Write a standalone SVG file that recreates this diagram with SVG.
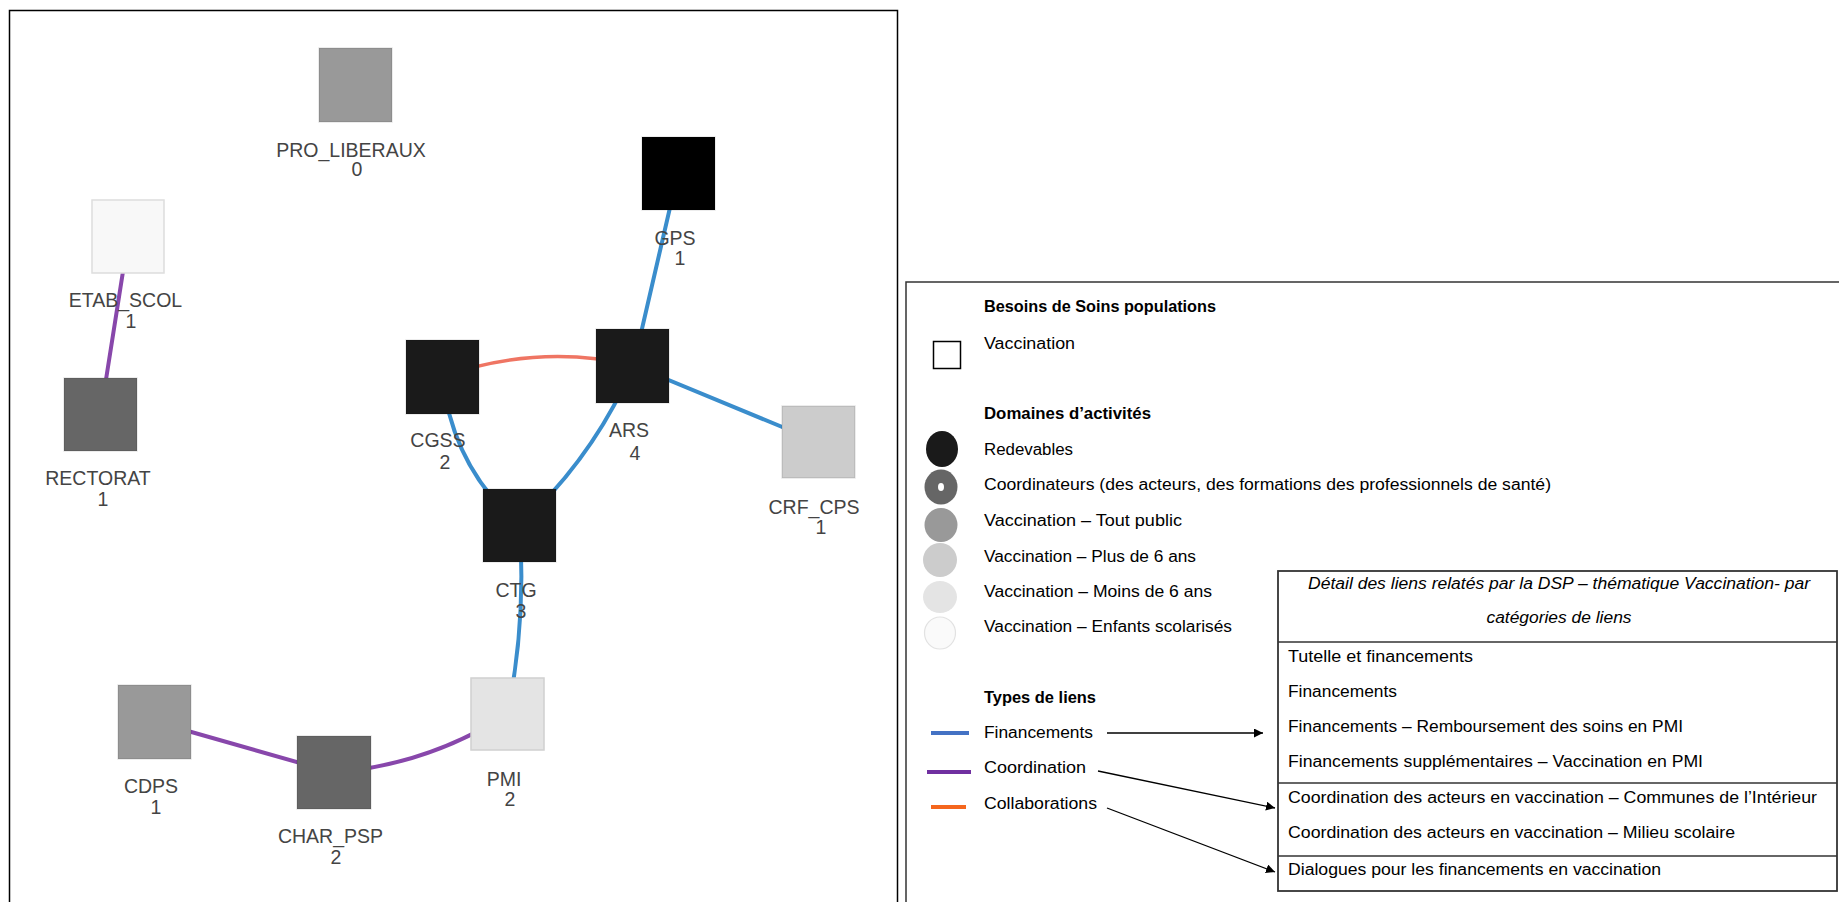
<svg xmlns="http://www.w3.org/2000/svg" width="1839" height="902" viewBox="0 0 1839 902">
<defs>
<style>
.frame{fill:#fff;stroke:#000;stroke-width:1.5}
.node{stroke:rgba(0,0,0,0.1);stroke-width:1.5}
.lbl{font-family:"Liberation Sans",Arial,sans-serif;font-size:19.5px;fill:#444;text-anchor:middle}
.e{fill:none;stroke-width:4;stroke-linecap:round}
.fin{stroke:#3a8dcc}
.coo{stroke:#8847ab}
.col{stroke:#ef7563;stroke-width:3.5}
.lt{font-family:"Liberation Sans",Arial,sans-serif;font-size:16px;fill:#000}
.b{font-weight:bold}
.it{font-style:italic}
.tl{stroke:#333;stroke-width:1.5;fill:none}
.arr{stroke:#000;stroke-width:1.3;fill:none;marker-end:url(#ah)}
</style>
<marker id="ah" viewBox="0 0 10 10" refX="10" refY="5" markerWidth="9" markerHeight="9" markerUnits="userSpaceOnUse" orient="auto"><path d="M0,0 L10,5 L0,10 z" fill="#000"/></marker>
</defs>
<rect width="1839" height="902" fill="#fff"/>
<rect class="frame" x="9.5" y="10.5" width="888" height="900"/>

<g id="connectors">
<line class="e fin" x1="678" y1="173" x2="633.5" y2="365.5"/>
<path class="e col" d="M442.5,376.5 Q540,343 633.5,365.5"/>
<line class="e fin" x1="633.5" y1="365.5" x2="818.5" y2="442"/>
<path class="e fin" d="M633.5,365.5 Q593.6,457.7 519.5,525.5"/>
<path class="e fin" d="M442.5,376.5 Q451.7,466.1 519.5,525.5"/>
<path class="e fin" d="M519.5,525.5 Q526.5,620.6 507.5,714"/>
<line class="e coo" x1="128.5" y1="236.5" x2="100.5" y2="414.5"/>
<line class="e coo" x1="154.5" y1="721.5" x2="333.5" y2="772.5"/>
<path class="e coo" d="M333.5,772.5 Q427.8,765 507.5,714"/>
</g>

<g id="node-PRO_LIBERAUX"><rect class="node" x="319" y="48" width="73" height="74" fill="#999"/><text class="lbl" x="351" y="157">PRO_LIBERAUX</text><text class="lbl" x="357" y="176">0</text></g>
<g id="node-GPS"><rect class="node" x="642" y="137" width="73" height="73" fill="#000"/><text class="lbl" x="675" y="245">GPS</text><text class="lbl" x="680" y="265">1</text></g>
<g id="node-ETAB_SCOL"><rect x="92" y="200" width="72" height="73" fill="#f8f8f8" stroke="#ddd" stroke-width="1.5"/><text class="lbl" x="125.5" y="307">ETAB_SCOL</text><text class="lbl" x="131" y="328">1</text></g>
<g id="node-RECTORAT"><rect class="node" x="64" y="378" width="73" height="73" fill="#666"/><text class="lbl" x="98" y="485">RECTORAT</text><text class="lbl" x="103" y="506">1</text></g>
<g id="node-CGSS"><rect class="node" x="406" y="340" width="73" height="74" fill="#1a1a1a"/><text class="lbl" x="438" y="447">CGSS</text><text class="lbl" x="445" y="469">2</text></g>
<g id="node-ARS"><rect class="node" x="596" y="329" width="73" height="74" fill="#1a1a1a"/><text class="lbl" x="629" y="437">ARS</text><text class="lbl" x="635" y="460">4</text></g>
<g id="node-CRF_CPS"><rect class="node" x="782" y="406" width="73" height="72" fill="#ccc"/><text class="lbl" x="814" y="514">CRF_CPS</text><text class="lbl" x="821" y="534">1</text></g>
<g id="node-CTG"><rect class="node" x="483" y="489" width="73" height="73" fill="#1a1a1a"/><text class="lbl" x="516" y="597">CTG</text><text class="lbl" x="521" y="618">3</text></g>
<g id="node-PMI"><rect x="471" y="678" width="73" height="72" fill="#e4e4e4" stroke="#d0d0d0" stroke-width="1.5"/><text class="lbl" x="504" y="786">PMI</text><text class="lbl" x="510" y="806">2</text></g>
<g id="node-CDPS"><rect class="node" x="118" y="685" width="73" height="74" fill="#999"/><text class="lbl" x="151" y="793">CDPS</text><text class="lbl" x="156" y="814">1</text></g>
<g id="node-CHAR_PSP"><rect class="node" x="297" y="736" width="74" height="73" fill="#666"/><text class="lbl" x="330.5" y="843">CHAR_PSP</text><text class="lbl" x="336" y="864">2</text></g>

<g id="legend">
<rect x="906" y="282" width="950" height="650" fill="#fff" stroke="#333" stroke-width="1.5"/>
<text class="lt b" x="984" y="312" textLength="232" lengthAdjust="spacingAndGlyphs">Besoins de Soins populations</text>
<rect x="933.5" y="341.5" width="27" height="27" fill="#fff" stroke="#000" stroke-width="1.5"/>
<text class="lt" x="984" y="349" textLength="91" lengthAdjust="spacingAndGlyphs">Vaccination</text>
<text class="lt b" x="984" y="419" textLength="167" lengthAdjust="spacingAndGlyphs">Domaines d’activités</text>
<ellipse cx="942" cy="449" rx="16" ry="18" fill="#1a1a1a"/>
<text class="lt" x="984" y="455" textLength="89" lengthAdjust="spacingAndGlyphs">Redevables</text>
<ellipse cx="941" cy="487" rx="16.5" ry="17.5" fill="#666"/>
<ellipse cx="941" cy="487" rx="3" ry="4" fill="#fff"/>
<text class="lt" x="984" y="490" textLength="567" lengthAdjust="spacingAndGlyphs">Coordinateurs (des acteurs, des formations des professionnels de santé)</text>
<ellipse cx="941" cy="525" rx="16.5" ry="17" fill="#999"/>
<text class="lt" x="984" y="525.5" textLength="198" lengthAdjust="spacingAndGlyphs">Vaccination – Tout public</text>
<ellipse cx="940" cy="560" rx="17" ry="17" fill="#ccc"/>
<text class="lt" x="984" y="561.5" textLength="212" lengthAdjust="spacingAndGlyphs">Vaccination – Plus de 6 ans</text>
<ellipse cx="940" cy="597" rx="17" ry="16" fill="#e4e4e4"/>
<text class="lt" x="984" y="596.5" textLength="228" lengthAdjust="spacingAndGlyphs">Vaccination – Moins de 6 ans</text>
<ellipse cx="940" cy="633" rx="15.5" ry="16" fill="#fafafa" stroke="#e2e2e2" stroke-width="1.2"/>
<text class="lt" x="984" y="632" textLength="248" lengthAdjust="spacingAndGlyphs">Vaccination – Enfants scolarisés</text>
<text class="lt b" x="984" y="702.5" textLength="112" lengthAdjust="spacingAndGlyphs">Types de liens</text>
<line x1="931" y1="733" x2="969" y2="733" stroke="#4472c4" stroke-width="4"/>
<text class="lt" x="984" y="737.5" textLength="109" lengthAdjust="spacingAndGlyphs">Financements</text>
<line x1="927" y1="772" x2="971" y2="772" stroke="#7030a0" stroke-width="4"/>
<text class="lt" x="984" y="773" textLength="102" lengthAdjust="spacingAndGlyphs">Coordination</text>
<line x1="931" y1="807" x2="966" y2="807" stroke="#f5661d" stroke-width="4"/>
<text class="lt" x="984" y="808.5" textLength="113" lengthAdjust="spacingAndGlyphs">Collaborations</text>

<line class="arr" x1="1107" y1="733" x2="1263" y2="733"/>
<line class="arr" x1="1098" y1="771" x2="1275" y2="808"/>
<line class="arr" x1="1107" y1="808" x2="1275" y2="872"/>

<rect x="1278" y="571" width="559" height="320" fill="#fff" stroke="#333" stroke-width="1.8"/>
<line class="tl" x1="1278" y1="642" x2="1837" y2="642" stroke-width="1.8"/>
<line class="tl" x1="1278" y1="783" x2="1837" y2="783" stroke-width="1.8"/>
<line class="tl" x1="1278" y1="856" x2="1837" y2="856" stroke-width="1.8"/>
<text class="lt it" x="1559" y="589" text-anchor="middle" textLength="502" lengthAdjust="spacingAndGlyphs">Détail des liens relatés par la DSP – thématique Vaccination- par</text>
<text class="lt it" x="1559" y="623" text-anchor="middle" textLength="145" lengthAdjust="spacingAndGlyphs">catégories de liens</text>
<text class="lt" x="1288" y="661.5" textLength="185" lengthAdjust="spacingAndGlyphs">Tutelle et financements</text>
<text class="lt" x="1288" y="696.5" textLength="109" lengthAdjust="spacingAndGlyphs">Financements</text>
<text class="lt" x="1288" y="732" textLength="395" lengthAdjust="spacingAndGlyphs">Financements – Remboursement des soins en PMI</text>
<text class="lt" x="1288" y="767" textLength="415" lengthAdjust="spacingAndGlyphs">Financements supplémentaires – Vaccination en PMI</text>
<text class="lt" x="1288" y="803" textLength="529" lengthAdjust="spacingAndGlyphs">Coordination des acteurs en vaccination – Communes de l’Intérieur</text>
<text class="lt" x="1288" y="838" textLength="447" lengthAdjust="spacingAndGlyphs">Coordination des acteurs en vaccination – Milieu scolaire</text>
<text class="lt" x="1288" y="875" textLength="373" lengthAdjust="spacingAndGlyphs">Dialogues pour les financements en vaccination</text>
</g>
</svg>
